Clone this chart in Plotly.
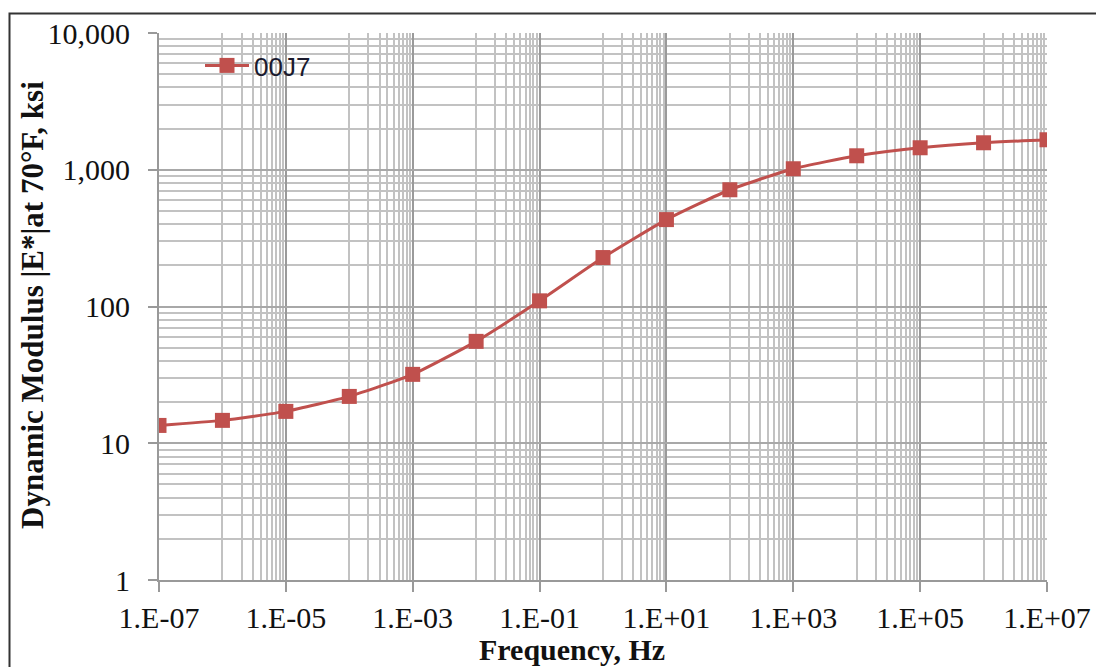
import plotly.graph_objects as go

# ---- data ----
frequency_hz = [1e-7, 1e-6, 1e-5, 1e-4, 1e-3, 1e-2, 1e-1, 1e0, 1e1, 1e2, 1e3, 1e4, 1e5, 1e6, 1e7]
modulus_ksi = [13.5, 14.7, 17.1, 22.0, 31.9, 55.6, 110, 228, 432, 714, 1017, 1265, 1448, 1575, 1657]
series_name = "00J7"

x_tick_vals = [1e-7, 1e-5, 1e-3, 1e-1, 1e1, 1e3, 1e5, 1e7]
x_tick_text = ["1.E-07", "1.E-05", "1.E-03", "1.E-01", "1.E+01", "1.E+03", "1.E+05", "1.E+07"]
y_tick_vals = [1, 10, 100, 1000, 10000]
y_tick_text = ["1", "10", "100", "1,000", "10,000"]

x_title = "Frequency, Hz"
y_title = "Dynamic Modulus |E*|at 70°F, ksi"

# minor gridlines: x axis uses base-100 style steps (10..90 x major), y axis 2..9 per decade
x_minor = [v * m for v in x_tick_vals[:-1] for m in range(10, 100, 10)]
y_minor = [v * m for v in y_tick_vals[:-1] for m in range(2, 10)]

W, H = 1096, 667
L, R, T, B = 159, 1047, 33, 580

serif = "Liberation Serif"
red = "#C0504D"
ink = "#111111"

fig = go.Figure()
fig.add_trace(go.Scatter(
    x=frequency_hz, y=modulus_ksi, name=series_name, mode="lines+markers",
    line=dict(color=red, width=3, shape="spline", smoothing=0.5),
    marker=dict(symbol="square", size=15, color=red),
))

def px_x(p):
    return (p - L) / (R - L)

def px_y(p):
    return (B - p) / (B - T)

fig.update_layout(
    width=W, height=H,
    margin=dict(l=L, r=W - R, t=T, b=H - B, autoexpand=False),
    paper_bgcolor="white", plot_bgcolor="white",
    showlegend=True,
    legend=dict(x=px_x(200), y=px_y(42), xanchor="left", yanchor="top",
                bgcolor="rgba(0,0,0,0)", borderwidth=0, itemwidth=44,
                font=dict(family="Liberation Sans", size=26, color="#1a1a2e")),
    xaxis=dict(
        type="log", range=[-7, 7], automargin=False,
        tickmode="array", tickvals=x_tick_vals, ticktext=x_tick_text,
        ticks="outside", ticklen=10, tickcolor="#999999", tickwidth=2,
        showgrid=True, gridcolor="#9a9a9a", gridwidth=2,
        showline=True, linecolor="#999999", linewidth=2,
        tickfont=dict(family=serif, size=30, color=ink),
        zeroline=False,
        minor=dict(tickmode="array", tickvals=x_minor, showgrid=True,
                   gridcolor="#c2c2c2", gridwidth=1.5, ticks=""),
    ),
    yaxis=dict(
        type="log", range=[0, 4], automargin=False,
        tickmode="array", tickvals=y_tick_vals, ticktext=y_tick_text,
        ticks="outside", ticklen=9, tickcolor="#999999", tickwidth=2,
        ticklabelstandoff=12,
        showgrid=True, gridcolor="#a8a8a8", gridwidth=1.5,
        showline=True, linecolor="#999999", linewidth=2,
        tickfont=dict(family=serif, size=30, color=ink),
        zeroline=False,
        minor=dict(tickmode="array", tickvals=y_minor, showgrid=True,
                   gridcolor="#c2c2c2", gridwidth=1.5, ticks=""),
    ),
)

# white legend background panel (between grid and traces)
fig.add_shape(type="rect", xref="paper", yref="paper", layer="between",
              x0=px_x(161), x1=px_x(346), y0=px_y(83), y1=px_y(35),
              fillcolor="white", line=dict(width=0))
# outer frame of the original figure
fig.add_shape(type="rect", xref="paper", yref="paper", layer="above",
              x0=px_x(9.5), x1=px_x(1140), y0=px_y(700), y1=px_y(13.5),
              fillcolor="rgba(0,0,0,0)", line=dict(color="#333333", width=2))

fig.add_annotation(text="<b>" + x_title + "</b>", xref="paper", yref="paper",
                   x=px_x(572), y=px_y(649), xanchor="center", yanchor="middle",
                   showarrow=False, font=dict(family=serif, size=30, color=ink))
fig.add_annotation(text="<b>" + y_title + "</b>", xref="paper", yref="paper",
                   x=px_x(32), y=px_y(305), xanchor="center", yanchor="middle",
                   textangle=-90, showarrow=False,
                   font=dict(family=serif, size=31, color=ink))

fig.write_html(
    "out.html",
    config={"displayModeBar": False},
    post_script="document.body.style.margin='0';document.body.style.overflow='hidden';",
)
